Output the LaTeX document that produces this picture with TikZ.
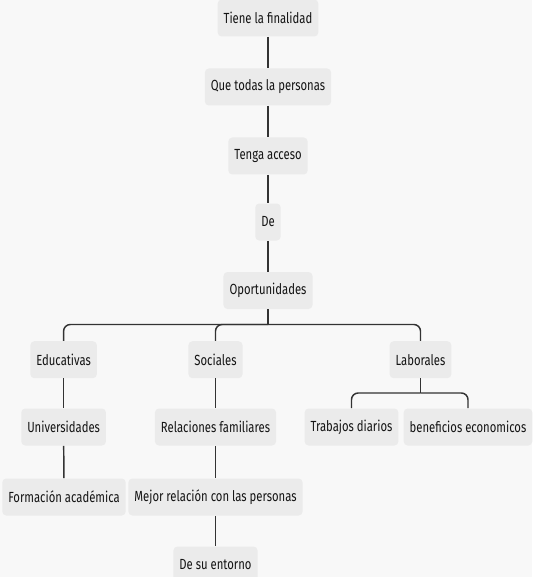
\documentclass[tikz,border=0pt]{standalone}
\usepackage{fontspec}
\setmainfont{Fira Sans}[FakeStretch=0.77]
\definecolor{fondo}{RGB}{248,248,248}
\definecolor{cajagris}{RGB}{235,235,235}
\definecolor{lineagris}{RGB}{51,51,51}
\definecolor{textogris}{RGB}{20,20,20}

\begin{document}
\begin{tikzpicture}[x=0.75pt,y=0.75pt,yscale=-1,xscale=1,
    caja/.style={fill=cajagris, rounded corners=3pt, inner xsep=4.5pt, inner ysep=0pt,
      minimum height=27.75pt, text=textogris, font=\fontsize{11}{13}\selectfont},
    enlace/.style={draw=lineagris, line width=1.1pt}]
\useasboundingbox[fill=fondo] (0,0) rectangle (532,577);

% eje central
\node [caja] (tiene)   at (268,18)    {Tiene la finalidad};
\node [caja] (todas)   at (268,87)    {Que todas la personas};
\node [caja] (acceso)  at (268,156)   {Tenga acceso};
\node [caja] (de)      at (268,222)   {De};
\node [caja] (oport)   at (268,290.5) {Oportunidades};

% ramas
\node [caja] (educ)    at (63.6,359.7)  {Educativas};
\node [caja] (soc)     at (215.5,359.7) {Sociales};
\node [caja] (lab)     at (420.5,359.7) {Laborales};
\node [caja] (univ)    at (63.6,427)    {Universidades};
\node [caja] (relfam)  at (215.5,427)   {Relaciones familiares};
\node [caja] (trab)    at (351.5,427)   {Trabajos diarios};
\node [caja] (benef)   at (468,427)     {beneficios economicos};
\node [caja] (forma)   at (64,497)      {Formación académica};
\node [caja] (mejor)   at (215.5,497)   {Mejor relación con las personas};
\node [caja] (entorno) at (215.5,565)   {De su entorno};

\coordinate (ramal)  at (268,324.5);
\coordinate (ramlab) at (420.5,393);

\draw [enlace] (tiene) -- (todas);
\draw [enlace] (todas) -- (acceso);
\draw [enlace] (acceso) -- (de);
\draw [enlace] (de) -- (oport);
\draw [enlace] (oport) -- (ramal);
\draw [enlace, rounded corners=5pt] (ramal) -| (educ);
\draw [enlace, rounded corners=5pt] (ramal) -| (soc);
\draw [enlace, rounded corners=5pt] (ramal) -| (lab);
\draw [enlace] (educ) -- (univ);
\draw [enlace] (univ) -- (forma);
\draw [enlace] (soc) -- (relfam);
\draw [enlace] (relfam) -- (mejor);
\draw [enlace] (mejor) -- (entorno);
\draw [enlace] (lab) -- (ramlab);
\draw [enlace, rounded corners=5pt] (ramlab) -| (trab);
\draw [enlace, rounded corners=5pt] (ramlab) -| (benef);
\end{tikzpicture}
\end{document}
